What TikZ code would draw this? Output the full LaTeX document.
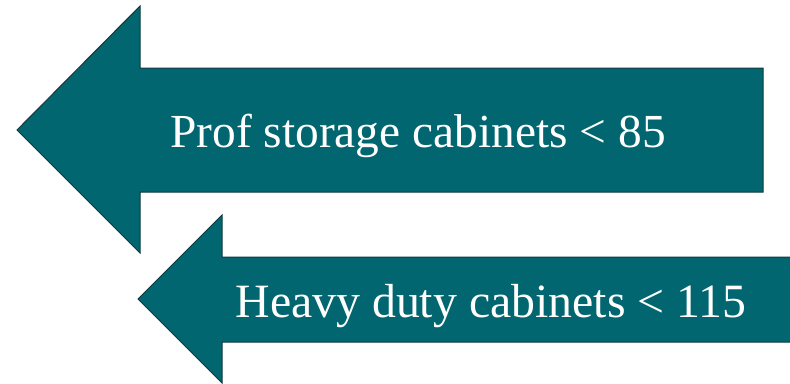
\documentclass[tikz,border=0pt]{standalone}
\usepackage{fontspec}
\setmainfont{Liberation Serif}
\usepackage{xcolor}
\usepackage{tikz}
\usetikzlibrary{arrows.meta, positioning}
\definecolor{cabteal}{HTML}{01666F}
\definecolor{cabedge}{HTML}{0E3A3E}

\begin{document}
\begin{tikzpicture}[x=1pt, y=-1pt]
      \clip (0,0) rectangle (790,383);
      % upper arrow
      \draw[fill=cabteal, draw=cabedge, line width=1pt, line join=miter]
        (763,68) -- (140,68) -- (140,6) -- (17,130) -- (140,253) -- (140,192) -- (763,192) -- cycle;
      % lower arrow
      \draw[fill=cabteal, draw=cabedge, line width=1pt, line join=miter]
        (800,257) -- (222,257) -- (222,215) -- (138,299) -- (222,383) -- (222,342) -- (800,342) -- cycle;
      \node[font=\fontsize{47.4}{47.4}\selectfont, text=white, anchor=base, inner sep=0pt] (proflabel) at (418,147) {Prof storage cabinets < 85};
      \node[font=\fontsize{47.8}{47.8}\selectfont, text=white, anchor=base, inner sep=0pt] (heavylabel) at (491,317) {Heavy duty cabinets < 115};
    \end{tikzpicture}
\end{document}
